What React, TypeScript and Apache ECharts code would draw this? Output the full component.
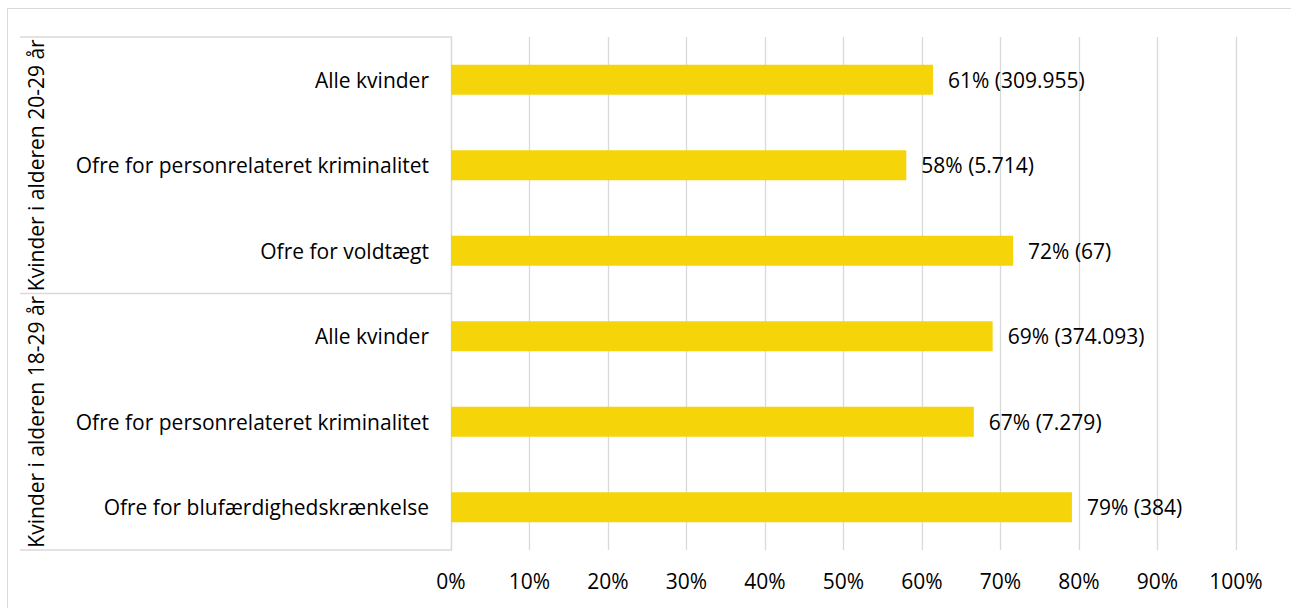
import React, { useEffect, useRef } from "react";
import * as echarts from "echarts";

const categories = [
  "Alle kvinder",
  "Ofre for personrelateret kriminalitet",
  "Ofre for voldtægt",
  "Alle kvinder",
  "Ofre for personrelateret kriminalitet",
  "Ofre for blufærdighedskrænkelse",
];
const shares = [0.614, 0.58, 0.716, 0.69, 0.666, 0.791];
const counts = ["309.955", "5.714", "67", "374.093", "7.279", "384"];
const groups = ["Kvinder i alderen 20-29 år", "Kvinder i alderen 18-29 år"];

const FONT = "Open Sans";
const FS = 21;
const GRID_COLOR = "#d9d9d9";
const GRID_LEFT = 443;
const GRID_TOP = 28;
const GRID_W = 785;
const GRID_H = 513;
const BOX_LEFT = 12;

export default function App() {
  const ref = useRef<HTMLDivElement>(null);
  useEffect(() => {
    if (!ref.current) return;
    const chart = echarts.init(ref.current, null, { renderer: "svg" });
    const boundaries = [0, 0.5, 1].map((f) => GRID_TOP + f * GRID_H);
    chart.setOption({
      animation: false,
      textStyle: { fontFamily: FONT },
      grid: { left: GRID_LEFT, top: GRID_TOP, width: GRID_W, height: GRID_H, containLabel: false },
      xAxis: {
        type: "value",
        min: 0,
        max: 1,
        interval: 0.1,
        axisLine: { show: false },
        axisTick: { show: false },
        splitLine: { show: true, lineStyle: { color: GRID_COLOR, width: 1.3 } },
        axisLabel: {
          formatter: (v: number) => Math.round(v * 100) + "%",
          fontFamily: FONT,
          fontSize: FS,
          color: "#000",
          margin: 20,
        },
      },
      yAxis: [
        {
          type: "category",
          data: categories,
          inverse: true,
          position: "left",
          axisLine: { show: true, lineStyle: { color: GRID_COLOR, width: 1.3 } },
          axisTick: { show: false },
          splitLine: { show: false },
          axisLabel: { fontFamily: FONT, fontSize: FS, color: "#000", margin: 22, interval: 0 },
        },
        {
          type: "category",
          data: groups,
          inverse: true,
          position: "left",
          offset: 0,
          axisLine: { show: false },
          splitLine: { show: false },
          axisTick: { show: false },
          axisLabel: {
            rotate: 90,
            interval: 0,
            hideOverlap: false,
            fontFamily: FONT,
            fontSize: FS,
            color: "#000",
            margin: 405,
          },
        },
      ],
      graphic: boundaries.map((y) => ({
        type: "rect",
        silent: true,
        shape: { x: BOX_LEFT, y: y - 0.65, width: GRID_LEFT - BOX_LEFT, height: 1.3 },
        style: { fill: GRID_COLOR, stroke: "none" },
      })),
      series: [
        {
          type: "bar",
          yAxisIndex: 0,
          data: shares,
          barWidth: 30,
          itemStyle: { color: "#F5D40A" },
          label: {
            show: true,
            position: "right",
            distance: 15,
            fontFamily: FONT,
            fontSize: FS,
            color: "#000",
            formatter: (p: any) => `${Math.round(p.value * 100)}% (${counts[p.dataIndex]})`,
          },
        },
      ],
    });
    return () => chart.dispose();
  }, []);
  return (
    <div
      style={{
        position: "absolute",
        left: 7,
        top: 8,
        width: 1300,
        height: 620,
        border: "1px solid #d9d9d9",
        boxSizing: "border-box",
        background: "#fff",
      }}
    >
      <div ref={ref} style={{ width: 1298, height: 618 }} />
    </div>
  );
}
